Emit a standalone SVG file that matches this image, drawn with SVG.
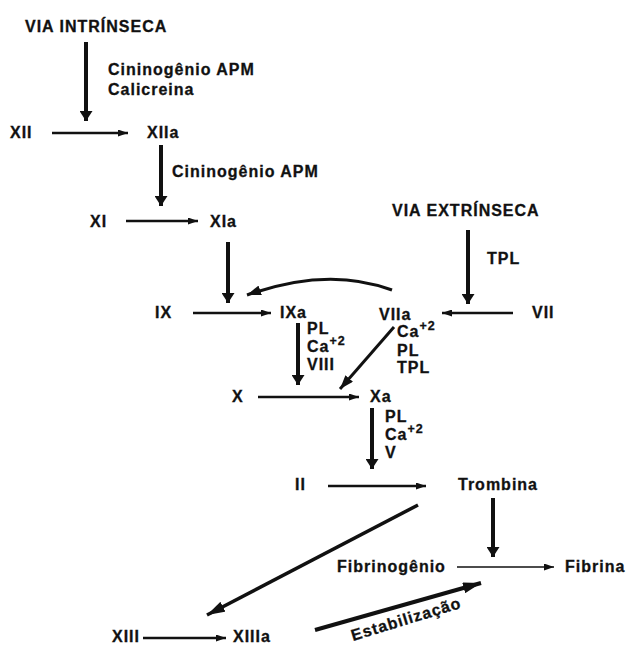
<svg xmlns="http://www.w3.org/2000/svg" width="629" height="648" viewBox="0 0 629 648">
<defs>
<style>
text{font-family:"Liberation Sans",Arial,sans-serif;font-weight:bold;font-size:16px;letter-spacing:1px;fill:#111;stroke:#111;stroke-width:0.3}
.sup{font-size:12.5px}
.c{fill:none;stroke:#111}
.v{stroke-width:4;marker-end:url(#hv)}
.h{stroke-width:2.5;marker-end:url(#hh)}
.t{stroke-width:1.6;marker-end:url(#hh)}
.d{stroke-width:3;marker-end:url(#hd)}
.D{stroke-width:3.5;marker-end:url(#hD)}
</style>
<marker id="hv" markerUnits="userSpaceOnUse" markerWidth="10" markerHeight="13" refX="10" refY="6.5" orient="auto"><path d="M0,0 L10,6.5 L0,13 z" fill="#111"/></marker>
<marker id="hh" markerUnits="userSpaceOnUse" markerWidth="10" markerHeight="7" refX="10" refY="3.5" orient="auto"><path d="M0,0 L10,3.5 L0,7 z" fill="#111"/></marker>
<marker id="hd" markerUnits="userSpaceOnUse" markerWidth="14" markerHeight="10" refX="14" refY="5" orient="auto"><path d="M0,0 L14,5 L0,10 z" fill="#111"/></marker>
<marker id="hD" markerUnits="userSpaceOnUse" markerWidth="18" markerHeight="11" refX="18" refY="5.5" orient="auto"><path d="M0,0 L18,5.5 L0,11 z" fill="#111"/></marker>
</defs>
<rect width="629" height="648" fill="#fff"/>
<g id="connectors">
<line class="c v" x1="86" y1="42" x2="86" y2="121"/>
<line class="c h" x1="52" y1="133" x2="128" y2="133"/>
<line class="c v" x1="161" y1="145" x2="161" y2="206"/>
<line class="c h" x1="126" y1="221" x2="198" y2="221"/>
<line class="c v" x1="228" y1="242" x2="228" y2="303"/>
<line class="c v" x1="468" y1="230" x2="468" y2="304"/>
<path class="c d" d="M392,290 Q328,266 247,295"/>
<line class="c h" x1="193" y1="313" x2="271" y2="313"/>
<line class="c h" x1="513" y1="313" x2="442" y2="313"/>
<line class="c v" x1="298" y1="323" x2="298" y2="385"/>
<line class="c d" x1="394" y1="327" x2="340" y2="389"/>
<line class="c h" x1="258" y1="397" x2="359" y2="397"/>
<line class="c v" x1="372" y1="408" x2="372" y2="469"/>
<line class="c h" x1="328" y1="486" x2="426" y2="486"/>
<line class="c v" x1="493" y1="498" x2="493" y2="557"/>
<line class="c D" x1="418" y1="505" x2="207" y2="615"/>
<line class="c t" x1="457" y1="567" x2="554" y2="567"/>
<line class="c h" x1="143" y1="638" x2="226" y2="638"/>
<line class="c D" x1="315" y1="630" x2="481" y2="583" style="stroke-width:4"/>
</g>
<g id="via-intrinseca"><text x="25" y="32">VIA INTRÍNSECA</text></g>
<g id="lbl-cin1"><text x="108" y="75">Cininogênio APM</text><text x="108" y="95">Calicreina</text></g>
<g id="XII"><text x="10" y="138">XII</text></g>
<g id="XIIa"><text x="147" y="138">XIIa</text></g>
<g id="lbl-cin2"><text x="172" y="177">Cininogênio APM</text></g>
<g id="XI"><text x="90" y="227">XI</text></g>
<g id="XIa"><text x="210" y="227">XIa</text></g>
<g id="via-extrinseca"><text x="392" y="216">VIA EXTRÍNSECA</text></g>
<g id="lbl-tpl"><text x="487" y="264">TPL</text></g>
<g id="IX"><text x="155" y="318">IX</text></g>
<g id="IXa"><text x="280" y="318">IXa</text></g>
<g id="VIIa"><text x="379" y="320">VIIa</text></g>
<g id="VII"><text x="532" y="318">VII</text></g>
<g id="lbl-ixa"><text x="307" y="334">PL</text><text x="307" y="352">Ca<tspan class="sup" dy="-7">+2</tspan></text><text x="307" y="370">VIII</text></g>
<g id="lbl-viia"><text x="397" y="337">Ca<tspan class="sup" dy="-7">+2</tspan></text><text x="397" y="356">PL</text><text x="397" y="373">TPL</text></g>
<g id="X"><text x="232" y="402">X</text></g>
<g id="Xa"><text x="370" y="402">Xa</text></g>
<g id="lbl-xa"><text x="385" y="422">PL</text><text x="385" y="440">Ca<tspan class="sup" dy="-7">+2</tspan></text><text x="385" y="458">V</text></g>
<g id="II"><text x="295" y="490">II</text></g>
<g id="Trombina"><text x="458" y="490">Trombina</text></g>
<g id="Fibrinogenio"><text x="337" y="572">Fibrinogênio</text></g>
<g id="Fibrina"><text x="565" y="572">Fibrina</text></g>
<g id="XIII"><text x="112" y="642">XIII</text></g>
<g id="XIIIa"><text x="233" y="642">XIIIa</text></g>
<g id="lbl-estab"><text transform="translate(353,641) rotate(-17)">Estabilização</text></g>
</svg>
